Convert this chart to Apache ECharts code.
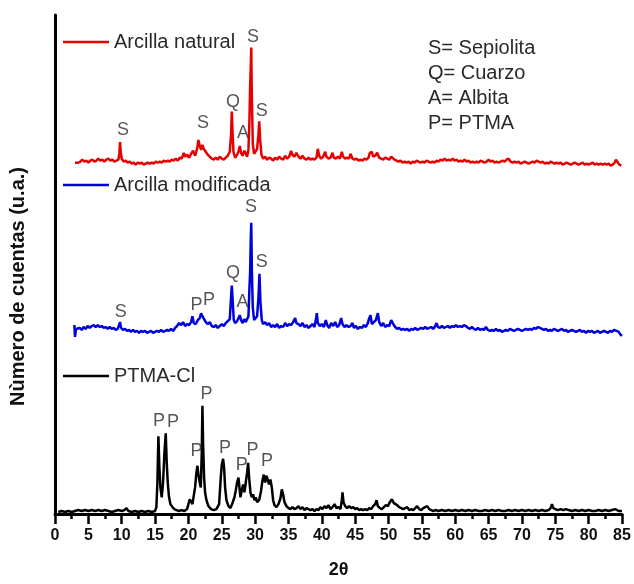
<!DOCTYPE html>
<html>
<head>
<meta charset="utf-8">
<script src="https://cdn.jsdelivr.net/npm/echarts@6/dist/echarts.min.js"></script>
<style>
  html, body { margin: 0; padding: 0; background: #fff; }
  #chart { width: 634px; height: 584px; }
</style>
</head>
<body>
<div id="chart"></div>
<script>
// 2θ / intensity (u.a.), relative to each trace's own baseline
const naturalScan = [
  [3.0,1],[3.2,3],[3.5,1],[3.8,2],[4.1,4],[4.4,2],[4.7,3],[5.0,1],[5.3,3],[5.6,4],[5.9,2],[6.2,3],[6.5,5],[6.8,3],[7.1,4],[7.4,2],[7.7,4],[8.0,5],[8.3,3],[8.6,4],[8.9,2],[9.2,3],[9.5,4],[9.65,10],[9.75,22],[9.85,12],[10.0,5],
  [10.3,2],[10.6,3],[10.9,1],[11.2,2],[11.5,0],[11.8,1],[12.1,-1],[12.4,1],[12.7,0],[13.0,1],[13.3,-1],[13.6,0],[13.9,1],[14.2,0],[14.5,1],[14.8,0],[15.1,2],[15.4,1],[15.7,2],[16.0,1],[16.3,3],[16.6,2],[16.9,3],[17.2,2],[17.5,4],[17.8,3],
  [18.1,5],[18.4,3],[18.7,6],[19.0,5],[19.3,11],[19.5,7],[19.8,9],[20.1,6],[20.4,10],[20.7,13],[21.0,8],[21.3,15],[21.5,24],[21.7,18],[21.9,14],[22.1,19],[22.3,15],[22.6,12],[22.9,9],[23.2,7],[23.5,5],[23.8,4],[24.1,6],[24.4,4],
  [24.7,7],[25.0,5],[25.3,4],[25.6,6],[25.9,8],[26.2,12],[26.4,30],[26.5,53],[26.6,35],[26.75,12],[27.0,6],[27.3,9],[27.5,12],[27.7,18],[27.9,11],[28.1,8],[28.4,13],[28.6,10],[28.8,7],[29.0,14],[29.15,45],[29.25,78],[29.35,100],
  [29.42,118],[29.5,72],[29.65,20],[29.85,10],[30.1,9],[30.3,15],[30.5,30],[30.62,43],[30.75,25],[30.95,9],[31.2,5],[31.5,7],[31.8,4],[32.1,6],[32.4,5],[32.7,3],[33.0,6],[33.3,4],[33.6,7],[33.9,5],[34.2,4],[34.5,8],[34.8,5],
  [35.1,7],[35.4,13],[35.6,9],[35.9,7],[36.2,11],[36.5,7],[36.8,5],[37.1,8],[37.4,5],[37.7,4],[38.0,6],[38.3,4],[38.6,5],[38.9,4],[39.2,6],[39.4,15],[39.6,8],[39.9,5],[40.2,7],[40.5,12],[40.7,7],[41.0,5],[41.3,6],[41.6,11],
  [41.8,6],[42.1,5],[42.4,7],[42.7,5],[43.0,12],[43.2,7],[43.5,5],[43.8,6],[44.1,5],[44.3,10],[44.6,5],[44.9,4],[45.2,5],[45.5,3],[45.8,4],[46.1,3],[46.4,5],[46.7,4],[47.0,6],[47.2,11],[47.5,12],[47.7,7],[48.0,8],[48.3,11],
  [48.6,6],[48.9,5],[49.2,4],[49.5,6],[49.8,5],[50.1,4],[50.4,7],[50.6,9],[50.9,4],[51.2,3],[51.5,2],[51.8,3],[52.1,1],[52.4,2],[52.7,1],[53.0,2],[53.3,0],[53.6,2],[53.9,1],[54.2,3],[54.5,2],[54.8,1],[55.1,2],[55.4,1],
  [55.7,3],[56.0,2],[56.3,1],[56.6,2],[56.9,1],[57.2,3],[57.5,2],[57.8,4],[58.1,3],[58.4,5],[58.7,3],[59.0,4],[59.3,3],[59.6,5],[59.9,3],[60.2,4],[60.5,2],[60.8,3],[61.1,2],[61.4,4],[61.7,2],[62.0,3],[62.3,1],[62.6,2],
  [62.9,1],[63.2,2],[63.5,1],[63.8,3],[64.1,2],[64.4,1],[64.7,2],[65.0,4],[65.3,2],[65.6,3],[65.9,1],[66.2,2],[66.5,1],[66.8,2],[67.1,3],[67.4,2],[67.7,4],[68.0,5],[68.3,2],[68.6,1],[68.9,2],[69.2,1],[69.5,2],[69.8,0],
  [70.1,1],[70.4,2],[70.7,1],[71.0,0],[71.3,1],[71.6,2],[71.9,1],[72.2,3],[72.5,2],[72.8,1],[73.1,2],[73.4,0],[73.7,1],[74.0,0],[74.3,2],[74.6,1],[74.9,0],[75.2,1],[75.5,0],[75.8,1],[76.1,-1],[76.4,0],[76.7,1],[77.0,0],
  [77.3,-1],[77.6,0],[77.9,1],[78.2,0],[78.5,-1],[78.8,0],[79.1,1],[79.4,-1],[79.7,0],[80.0,-1],[80.3,0],[80.6,1],[80.9,-1],[81.2,0],[81.5,-1],[81.8,0],[82.1,-1],[82.4,0],[82.7,-1],[83.0,0],[83.3,-2],[83.6,-1],[83.9,1],
  [84.1,4],[84.3,2],[84.6,-1],[84.9,-2]
];

const modifiedScan = [
  [2.9,7],[3.0,-5],[3.15,3],[3.4,1],[3.7,4],[4.0,2],[4.3,5],[4.6,3],[4.9,6],[5.2,4],[5.5,6],[5.8,7],[6.1,5],[6.4,7],[6.7,5],[7.0,6],[7.3,4],[7.6,5],[7.9,3],[8.2,5],[8.5,3],[8.8,4],[9.1,2],[9.4,3],[9.6,5],[9.75,10],[9.9,4],
  [10.2,2],[10.5,3],[10.8,1],[11.1,2],[11.4,0],[11.7,2],[12.0,0],[12.3,1],[12.6,-1],[12.9,1],[13.2,0],[13.5,1],[13.8,-1],[14.1,0],[14.4,1],[14.7,-1],[15.0,0],[15.3,1],[15.6,0],[15.9,2],[16.2,0],[16.5,1],[16.8,2],[17.1,1],
  [17.4,3],[17.7,1],[18.0,4],[18.3,6],[18.6,9],[18.9,7],[19.2,10],[19.5,6],[19.8,8],[20.1,7],[20.4,10],[20.6,16],[20.8,9],[21.1,8],[21.4,12],[21.7,14],[21.9,19],[22.1,16],[22.3,14],[22.6,10],[22.9,8],[23.2,10],[23.5,6],
  [23.8,5],[24.1,7],[24.4,4],[24.7,6],[25.0,8],[25.3,6],[25.6,9],[25.9,11],[26.2,13],[26.35,30],[26.5,47],[26.65,30],[26.8,12],[27.0,9],[27.3,11],[27.5,14],[27.7,17],[27.9,12],[28.1,9],[28.4,13],[28.6,10],[28.8,8],[29.0,16],
  [29.15,45],[29.25,60],[29.35,95],[29.42,111],[29.52,60],[29.65,25],[29.85,12],[30.1,10],[30.3,16],[30.5,35],[30.65,59],[30.8,30],[31.0,12],[31.2,8],[31.5,10],[31.8,7],[32.1,9],[32.4,5],[32.7,7],[33.0,5],[33.3,8],
  [33.6,4],[33.9,6],[34.2,5],[34.5,9],[34.8,6],[35.1,8],[35.4,7],[35.7,10],[36.0,14],[36.2,9],[36.5,8],[36.8,6],[37.1,9],[37.4,5],[37.7,7],[38.0,4],[38.3,6],[38.6,8],[38.9,5],[39.1,12],[39.25,19],[39.4,9],[39.7,6],
  [40.0,8],[40.3,5],[40.6,12],[40.8,7],[41.1,4],[41.4,9],[41.7,6],[42.0,10],[42.3,5],[42.6,7],[42.9,14],[43.1,8],[43.4,5],[43.7,7],[44.0,5],[44.3,6],[44.6,9],[44.8,4],[45.1,6],[45.4,3],[45.7,5],[46.0,4],[46.3,7],
  [46.6,5],[46.9,9],[47.1,14],[47.3,17],[47.5,8],[47.8,10],[48.1,12],[48.4,19],[48.6,10],[48.9,6],[49.2,9],[49.5,5],[49.8,7],[50.1,6],[50.4,12],[50.7,8],[51.0,5],[51.3,3],[51.6,4],[51.9,2],[52.2,3],[52.5,2],[52.8,3],
  [53.1,1],[53.4,3],[53.7,2],[54.0,4],[54.3,2],[54.6,3],[54.9,4],[55.2,3],[55.5,5],[55.8,3],[56.1,4],[56.4,5],[56.7,3],[57.0,6],[57.2,9],[57.4,5],[57.7,4],[58.0,6],[58.3,4],[58.6,5],[58.9,6],[59.2,4],[59.5,6],[59.8,5],
  [60.1,7],[60.4,5],[60.7,6],[61.0,5],[61.3,7],[61.6,6],[61.9,4],[62.2,3],[62.5,5],[62.8,3],[63.1,2],[63.4,4],[63.7,2],[64.0,3],[64.3,2],[64.6,5],[64.9,2],[65.2,1],[65.5,2],[65.8,1],[66.1,3],[66.4,1],[66.7,2],[67.0,0],
  [67.3,1],[67.6,2],[67.9,1],[68.2,3],[68.5,2],[68.8,1],[69.1,2],[69.4,3],[69.7,2],[70.0,1],[70.3,2],[70.6,3],[70.9,2],[71.2,3],[71.5,2],[71.8,4],[72.1,3],[72.4,5],[72.7,4],[73.0,3],[73.3,2],[73.6,3],[73.9,1],[74.2,2],
  [74.5,1],[74.8,3],[75.1,2],[75.4,1],[75.7,2],[76.0,3],[76.3,1],[76.6,2],[76.9,0],[77.2,1],[77.5,2],[77.8,1],[78.1,0],[78.4,1],[78.7,2],[79.0,0],[79.3,1],[79.6,-1],[79.9,1],[80.2,0],[80.5,1],[80.8,-1],[81.1,0],[81.4,1],
  [81.7,-1],[82.0,0],[82.3,1],[82.6,0],[82.9,-1],[83.2,1],[83.5,0],[83.8,2],[84.0,4],[84.2,1],[84.5,0],[84.8,-3],[85.0,-4]
];

const ptmaScan = [
  [0.5,0],[1.0,1],[1.5,0],[2.0,1],[2.5,0],[3.0,1],[3.5,2],[4.0,1],[4.5,2],[5.0,1],[5.5,2],[6.0,1],[6.5,2],[7.0,1],[7.5,2],[8.0,1],[8.5,0],[9.0,1],[9.5,2],[10.0,1],[10.4,2],[10.7,4],[11.0,1],[11.5,0],[12.0,1],[12.5,0],
  [13.0,1],[13.5,0],[14.0,1],[14.5,0],[15.0,1],[15.2,5],[15.35,30],[15.5,77],[15.65,45],[15.8,25],[16.0,15],[16.2,30],[16.4,60],[16.6,80],[16.75,50],[16.9,30],[17.1,15],[17.3,8],[17.6,5],[17.9,3],[18.2,2],[18.6,1],
  [19.0,2],[19.4,1],[19.8,3],[20.0,8],[20.2,13],[20.4,15],[20.6,8],[20.8,10],[21.0,25],[21.2,40],[21.35,47],[21.5,38],[21.7,30],[21.85,25],[22.0,60],[22.1,108],[22.2,70],[22.35,35],[22.5,20],[22.7,12],[23.0,6],[23.4,3],
  [23.8,2],[24.2,3],[24.6,8],[24.85,35],[25.0,48],[25.2,54],[25.35,45],[25.5,25],[25.7,12],[26.0,6],[26.3,4],[26.6,9],[26.9,15],[27.1,22],[27.3,30],[27.5,35],[27.65,25],[27.8,15],[28.0,22],[28.2,28],[28.4,20],[28.6,30],
  [28.8,40],[28.95,50],[29.1,35],[29.3,20],[29.5,15],[29.7,18],[29.9,12],[30.1,15],[30.3,10],[30.6,12],[30.9,22],[31.1,32],[31.3,38],[31.5,30],[31.7,37],[31.9,38],[32.1,28],[32.3,33],[32.5,25],[32.7,12],[32.9,7],
  [33.2,5],[33.5,8],[33.8,14],[34.0,23],[34.2,18],[34.4,10],[34.7,6],[35.0,4],[35.3,3],[35.6,5],[35.9,3],[36.2,4],[36.5,6],[36.8,3],[37.1,5],[37.4,2],[37.7,4],[38.0,3],[38.3,2],[38.6,3],[38.9,1],[39.2,3],[39.5,2],
  [39.8,5],[40.1,3],[40.4,6],[40.7,4],[41.0,7],[41.3,3],[41.6,5],[41.9,8],[42.2,4],[42.5,5],[42.8,3],[43.0,12],[43.1,20],[43.25,10],[43.5,6],[43.8,4],[44.1,6],[44.4,4],[44.7,5],[45.0,3],[45.3,4],[45.6,2],[45.9,3],
  [46.2,2],[46.5,3],[46.8,2],[47.1,4],[47.4,3],[47.7,6],[48.0,8],[48.2,12],[48.4,6],[48.7,4],[49.0,3],[49.3,5],[49.6,7],[49.9,6],[50.2,10],[50.5,13],[50.8,9],[51.0,11],[51.3,7],[51.6,5],[51.9,4],[52.2,3],[52.5,4],
  [52.8,5],[53.1,2],[53.4,3],[53.7,2],[54.0,4],[54.3,6],[54.6,3],[54.9,2],[55.2,4],[55.5,5],[55.8,6],[56.1,3],[56.4,2],[56.7,1],[57.0,2],[57.5,1],[58.0,2],[58.5,1],[59.0,2],[59.5,1],[60.0,2],[60.5,1],[61.0,2],[61.5,1],
  [62.0,2],[62.5,1],[63.0,2],[63.5,1],[64.0,1],[64.5,2],[65.0,1],[65.5,2],[66.0,1],[66.5,2],[67.0,1],[67.5,1],[68.0,2],[68.5,1],[69.0,2],[69.5,1],[70.0,2],[70.5,1],[71.0,2],[71.5,1],[72.0,2],[72.5,1],[73.0,2],[73.5,1],
  [74.0,2],[74.3,4],[74.5,8],[74.7,4],[75.0,3],[75.4,2],[75.8,3],[76.2,2],[76.6,3],[77.0,2],[77.5,1],[78.0,2],[78.5,1],[79.0,2],[79.5,1],[80.0,2],[80.5,1],[81.0,1],[81.5,2],[82.0,1],[82.5,2],[83.0,1],[83.5,2],[84.0,3],
  [84.5,1],[85.0,1]
];

// vertical shift of each pattern in the stacked plot (u.a.)
const traceNames = ['Arcilla natural', 'Arcilla modificada', 'PTMA-Cl'];
const traceOffsets = [356, 185, 2];

// peak labels: [2θ, height above the trace baseline, phase]
const naturalPeaks = [[10.2,34,'S'],[22.2,41,'S'],[26.7,63,'Q'],[28.2,31,'A'],[29.7,129,'S'],[31.0,53,'S']];
const modifiedPeaks = [[9.85,20,'S'],[21.2,27,'P'],[23.1,32,'P'],[26.7,60,'Q'],[28.1,30,'A'],[29.4,127,'S'],[31.0,71,'S']];
const ptmaPeaks = [[15.6,92,'P'],[17.7,91,'P'],[22.7,120,'P'],[21.2,62,'P'],[25.5,65,'P'],[28.0,48,'P'],[29.6,63,'P'],[31.8,52,'P']];

const phaseKey = ['S= Sepiolita', 'Q= Cuarzo', 'A= Albita', 'P= PTMA'];

const colors = ['#e60000', '#0000dd', '#000000'];
const font = 'Liberation Sans, Arial, sans-serif';

const shift = (rows, off) => rows.map((r) => [r[0], r[1] + off]);
const peakData = (rows, off) => rows.map((r) => ({ value: [r[0], r[1] + off], name: r[2] }));

const chart = echarts.init(document.getElementById('chart'), null, { renderer: 'canvas' });

const lineSeries = [naturalScan, modifiedScan, ptmaScan].map((rows, i) => ({
  name: traceNames[i],
  type: 'line',
  data: shift(rows, traceOffsets[i]),
  symbol: 'none',
  showSymbol: false,
  color: colors[i],
  lineStyle: { width: 2.5, color: colors[i] },
  z: 3 - i,
}));

const labelSeries = [naturalPeaks, modifiedPeaks, ptmaPeaks].map((rows, i) => ({
  type: 'scatter',
  silent: true,
  symbolSize: 1,
  itemStyle: { color: 'transparent' },
  data: peakData(rows, traceOffsets[i]),
  label: {
    show: true,
    position: 'inside',
    formatter: (p) => p.name,
    fontFamily: font,
    fontSize: 18,
    color: '#2a2a2a',
  },
  z: 10,
}));

const legendTops = [32, 175, 366];

const option = {
  animation: false,
  backgroundColor: '#ffffff',
  grid: { left: 55, right: 12, top: 15, bottom: 62 },
  title: {
    text: phaseKey.join('\n'),
    left: 428,
    top: 36,
    padding: 0,
    textStyle: {
      fontFamily: font,
      fontSize: 20,
      fontWeight: 'normal',
      lineHeight: 25,
      color: '#2a2a2a',
    },
  },
  legend: traceNames.map((name, i) => ({
    data: [name],
    left: 63,
    top: legendTops[i],
    padding: 0,
    icon: 'rect',
    itemWidth: 46,
    itemHeight: 2.5,
    selectedMode: false,
    textStyle: { fontFamily: font, fontSize: 20, color: '#2a2a2a' },
  })),
  xAxis: {
    type: 'value',
    min: 0,
    max: 85,
    interval: 5,
    name: '2θ',
    nameLocation: 'middle',
    nameGap: 47,
    nameTextStyle: { fontFamily: font, fontSize: 18, fontWeight: 'bold', color: '#111' },
    axisLine: { lineStyle: { color: '#000', width: 3 } },
    axisTick: { length: 10, lineStyle: { color: '#000', width: 2.5 } },
    minorTick: { show: true, splitNumber: 2, length: 5, lineStyle: { color: '#000', width: 2.5 } },
    splitLine: { show: false },
    axisLabel: { fontFamily: font, fontSize: 16, fontWeight: 'bold', color: '#111', margin: 14 },
  },
  yAxis: {
    type: 'value',
    min: 0,
    max: 507,
    name: 'Nùmero de cuentas (u.a.)',
    nameLocation: 'middle',
    nameGap: 27,
    nameRotate: 90,
    nameTextStyle: { fontFamily: font, fontSize: 20, fontWeight: 'bold', color: '#111', padding: [0, 44, 0, 0] },
    axisLine: { show: true, lineStyle: { color: '#000', width: 3 } },
    axisTick: { show: false },
    axisLabel: { show: false },
    splitLine: { show: false },
  },
  series: [...lineSeries, ...labelSeries],
};

chart.setOption(option);
</script>
</body>
</html>
